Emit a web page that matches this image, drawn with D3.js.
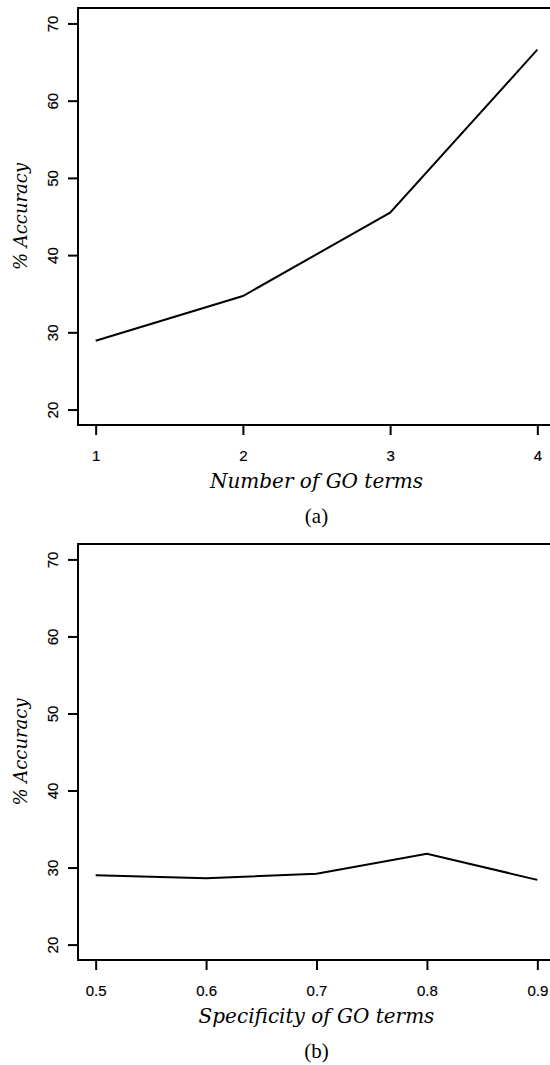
<!DOCTYPE html>
<html>
<head>
<meta charset="utf-8">
<script src="https://cdn.jsdelivr.net/npm/d3@7"></script>
<style>
  body { margin: 0; background: #fff; }
  svg { display: block; }
  .tick text { font-family: "Liberation Sans", Arial, sans-serif; font-size: 15px; fill: #000; stroke: #000; stroke-width: 0.2px; }
  .ttl { font-family: "DejaVu Serif", serif; font-style: italic; fill: #000; }
  .cap { font-family: "Liberation Serif", "DejaVu Serif", serif; fill: #000; }
</style>
</head>
<body>
<script>
// panel (a)
var goCounts = [1, 2, 3, 4];
var accByCount = [28.9, 34.7, 45.5, 66.6];
// panel (b)
var specificity = [0.5, 0.6, 0.7, 0.8, 0.9];
var accBySpec = [29.0, 28.6, 29.2, 31.8, 28.4];

var yTicks = [20, 30, 40, 50, 60, 70];

var W = 550, H = 1065;
var svg = d3.select("body").append("svg").attr("width", W).attr("height", H);

function panel(opts) {
  var top = opts.top, bottom = opts.bottom;
  var left = 78, right = 555;
  var xs = d3.scaleLinear().domain(opts.xDom).range([left, right]);
  var ys = d3.scaleLinear().domain([18, 72]).range([bottom, top]);
  var g = svg.append("g");

  // frame
  g.append("rect")
    .attr("x", left).attr("y", top)
    .attr("width", right - left).attr("height", bottom - top)
    .attr("fill", "none").attr("stroke", "#000").attr("stroke-width", 2);

  // y axis
  var ya = g.append("g").attr("transform", "translate(" + left + ",0)")
    .call(d3.axisLeft(ys).tickValues(yTicks).tickSize(10).tickSizeOuter(0).tickPadding(0));
  ya.select(".domain").remove();
  ya.selectAll(".tick line").attr("stroke", "#000").attr("stroke-width", 2);
  ya.selectAll(".tick text")
    .attr("x", null).attr("dy", null)
    .attr("text-anchor", "middle")
    .attr("transform", "translate(-25,0) rotate(-90)")
    .attr("dy", "0.36em");

  // x axis
  var xa = g.append("g").attr("transform", "translate(0," + bottom + ")")
    .call(d3.axisBottom(xs).tickValues(opts.xTicks).tickFormat(opts.fmt).tickSize(10).tickSizeOuter(0).tickPadding(0));
  xa.select(".domain").remove();
  xa.selectAll(".tick line").attr("stroke", "#000").attr("stroke-width", 2);
  xa.selectAll(".tick text").attr("y", 31).attr("dy", "0.36em");

  // line
  var pts = opts.xTicks.map(function(d, i) { return [d, opts.vals[i]]; });
  g.append("path")
    .datum(pts)
    .attr("fill", "none").attr("stroke", "#000").attr("stroke-width", 2)
    .attr("d", d3.line().x(function(d) { return xs(d[0]); }).y(function(d) { return ys(d[1]); }));

  // titles
  var cx = (left + right) / 2;
  g.append("text").attr("class", "ttl")
    .attr("x", cx).attr("y", bottom + 63)
    .attr("text-anchor", "middle").attr("font-size", 20)
    .text(opts.xTitle);
  g.append("text").attr("class", "ttl")
    .attr("transform", "translate(27," + ((top + bottom) / 2) + ") rotate(-90)")
    .attr("text-anchor", "middle").attr("font-size", 18)
    .text("% Accuracy");
  g.append("text").attr("class", "cap")
    .attr("x", cx).attr("y", bottom + 98)
    .attr("text-anchor", "middle").attr("font-size", 21)
    .text(opts.cap);
}

panel({ top: 8, bottom: 425, xDom: [0.88, 4.12], xTicks: goCounts, vals: accByCount,
        fmt: d3.format("d"), xTitle: "Number of GO terms", cap: "(a)" });
panel({ top: 544, bottom: 960, xDom: [0.484, 0.916], xTicks: specificity, vals: accBySpec,
        fmt: d3.format(".1f"), xTitle: "Specificity of GO terms", cap: "(b)" });
</script>
</body>
</html>
